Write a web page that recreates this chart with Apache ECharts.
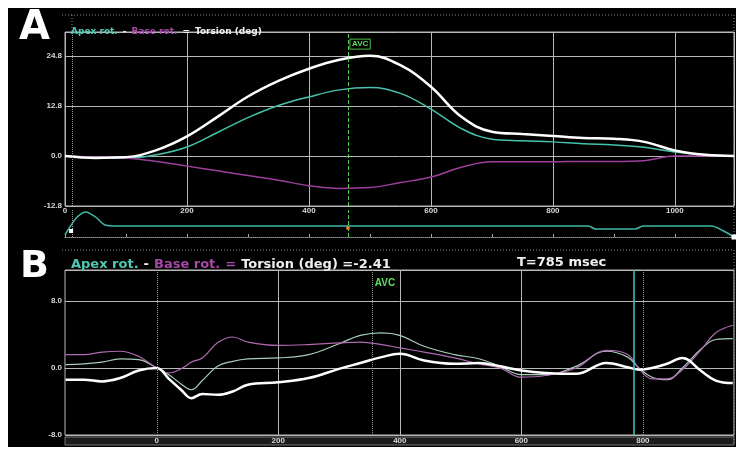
<!DOCTYPE html>
<html><head><meta charset="utf-8">
<script src="https://cdn.jsdelivr.net/npm/echarts@6/dist/echarts.min.js"></script>
<style>html,body{margin:0;padding:0;background:#fff;}#c{width:744px;height:452px;}</style>
</head><body><div id="c"></div>
<script>
// ---------- Panel A data ----------
const aTime    = [0, 50, 100, 150, 200, 250, 300, 350, 400, 450, 500, 550, 600, 650, 700, 750, 800, 850, 900, 950, 1000, 1050, 1097];
const aApex    = [0, -0.4, -0.6, 0.3, 2.3, 6.0, 9.8, 12.9, 15.1, 16.9, 17.5, 16.0, 12.0, 7.0, 4.3, 3.9, 3.6, 3.1, 2.8, 2.2, 1.0, 0.3, 0];
const aBase    = [0, -0.3, -0.5, -1.4, -2.6, -3.8, -5.0, -6.2, -7.6, -8.3, -8.1, -6.8, -5.4, -2.9, -1.5, -1.5, -1.5, -1.4, -1.4, -1.2, 0, 0, 0];
const aTorsion = [0, -0.5, -0.3, 1.5, 5.0, 10.0, 15.2, 19.2, 22.3, 24.6, 25.6, 23.2, 17.7, 10.0, 6.2, 5.6, 5.1, 4.6, 4.4, 3.6, 1.4, 0.3, 0];
const aYTicks  = [-12.8, 0, 12.8, 25.6];
const aYLabels = ['-12.8', '0.0', '12.8', '24.8'];
const aXLabels = [0, 200, 400, 600, 800, 1000];
const aMarkerT = 12;
const aAVC     = 464;
const ecgTime  = [0, 8, 20, 34, 50, 66, 85, 300, 580, 858, 870, 935, 948, 1060, 1080, 1097];
const ecgVal   = [2, 10, 20, 25, 20, 12, 11, 11, 11, 11, 8, 8, 11, 11, 6, 0];

// ---------- Panel B data ----------
const bTime    = [-150, -120, -90, -60, -30, 0, 20, 40, 57, 75, 100, 125, 150, 200, 250, 300, 335, 370, 400, 440, 490, 530, 565, 600, 640, 690, 740, 775, 795, 815, 840, 865, 895, 920, 948];
const bApex    = [0.4, 0.5, 0.7, 1.1, 1.0, 0, -0.8, -1.9, -2.6, -1.5, 0.2, 0.8, 1.1, 1.2, 1.6, 2.9, 3.9, 4.2, 3.9, 2.6, 1.6, 1.1, 0.2, -0.8, -0.8, 0.2, 2.0, 1.3, -0.1, -1.1, -1.4, 0.0, 2.2, 3.4, 3.5];
const bBase    = [1.6, 1.6, 1.9, 2.0, 1.4, 0, -0.6, -0.1, 0.7, 1.2, 3.0, 3.7, 3.1, 2.7, 2.8, 3.0, 3.1, 2.8, 2.4, 1.9, 1.2, 0.5, 0, -1.1, -0.9, 0, 2.1, 1.6, -0.2, -1.3, -1.3, -0.2, 2.1, 4.2, 5.1];
const bTorsion = [-1.4, -1.4, -1.6, -1.2, -0.3, 0, -1.3, -2.6, -3.6, -3.1, -3.2, -2.8, -2.0, -1.7, -1.2, -0.1, 0.6, 1.3, 1.7, 0.9, 0.5, 0.6, 0.2, -0.3, -0.6, -0.7, 0.6, 0.1, -0.2, 0.0, 0.5, 1.2, -0.3, -1.5, -1.8];
const bYTicks  = [-8, 0, 8];
const bYLabels = ['-8.0', '0.0', '8.0'];
const bXLabels = [0, 200, 400, 600, 800];
const bXGrid   = [200, 400, 600];
const bZeroT   = 0;
const bAVC     = 354;
const bCursorT = 785;
const bMarkT   = 800;
const bTorsionNow = '-2.41';

const zip = (xs, ys) => xs.map((x, i) => [x, ys[i]]);
const labelFor = (ticks, labels) => v => {
  for (let i = 0; i < ticks.length; i++) if (Math.abs(v - ticks[i]) < 1e-6) return labels[i];
  return '';
};

const chart = echarts.init(document.getElementById('c'), null, {renderer: 'canvas'});
const gridLine = {color: '#b8b8b8', width: 1};
const axLabel = {color: '#d8d8d8', fontSize: 8, fontWeight: 'bold', fontFamily: 'Liberation Sans'};
const LF = 'DejaVu Sans';

chart.setOption({
  animation: false,
  backgroundColor: '#fff',
  graphic: [
    {type: 'rect', shape: {x: 8, y: 8, width: 728, height: 439}, style: {fill: '#000'}, z: -10},
    {type: 'line', shape: {x1: 62, y1: 15, x2: 734, y2: 15}, style: {stroke: '#8a8a8a', lineDash: [1, 2]}},
    {type: 'line', shape: {x1: 734, y1: 15, x2: 734, y2: 240}, style: {stroke: '#8a8a8a', lineDash: [1, 2]}},
    {type: 'line', shape: {x1: 72, y1: 15, x2: 72, y2: 32}, style: {stroke: '#8a8a8a', lineDash: [1, 2]}},
    {type: 'line', shape: {x1: 62, y1: 250, x2: 734, y2: 250}, style: {stroke: '#8a8a8a', lineDash: [1, 2]}},
    {type: 'line', shape: {x1: 734, y1: 250, x2: 734, y2: 445}, style: {stroke: '#8a8a8a', lineDash: [1, 2]}},
    {type: 'rect', shape: {x: 65, y: 437, width: 669, height: 8}, style: {fill: '#1c1c1c', stroke: '#777', lineWidth: 1}, z: -5}
  ],
  title: [
    {text: 'A', left: 14, top: 4, textStyle: {color: '#fff', fontSize: 40, fontWeight: 'bold', fontFamily: LF}},
    {text: 'B', left: 15, top: 243, textStyle: {color: '#fff', fontSize: 38, fontWeight: 'bold', fontFamily: LF}},
    {text: '{a|Apex rot.} {w|-} {b|Base rot.} {w|=} {w|Torsion (deg)}', left: 66, top: 18,
     textStyle: {rich: {
       a: {color: '#4fc8b4', fontSize: 9, fontWeight: 'bold', fontFamily: LF},
       b: {color: '#a848a8', fontSize: 9, fontWeight: 'bold', fontFamily: LF},
       w: {color: '#f0f0f0', fontSize: 9, fontWeight: 'bold', fontFamily: LF}}}},
    {text: '{a|Apex rot.} {w|-} {b|Base rot.} {b|=} {w|Torsion (deg) =' + bTorsionNow + '}', left: 66, top: 251,
     textStyle: {rich: {
       a: {color: '#4fc8b4', fontSize: 13, fontWeight: 'bold', fontFamily: LF},
       b: {color: '#a848a8', fontSize: 13, fontWeight: 'bold', fontFamily: LF},
       w: {color: '#f0f0f0', fontSize: 13, fontWeight: 'bold', fontFamily: LF}}}},
    {text: 'T=' + bCursorT + ' msec', left: 512, top: 251,
     textStyle: {color: '#f0f0f0', fontSize: 13, fontWeight: 'bold', fontFamily: LF}}
  ],
  grid: [
    {left: 65, top: 32, width: 669, height: 174, show: true, borderColor: '#b8b8b8', borderWidth: 1, backgroundColor: 'transparent'},
    {left: 65, top: 210, width: 669, height: 27, show: false},
    {left: 65, top: 270, width: 669, height: 165, show: true, borderColor: '#b8b8b8', borderWidth: 1, backgroundColor: 'transparent'}
  ],
  xAxis: [
    {gridIndex: 0, type: 'value', min: 0, max: 1097, interval: 200,
     axisLine: {show: false}, axisTick: {show: false},
     axisLabel: Object.assign({margin: 1, formatter: labelFor(aXLabels, aXLabels.map(String))}, axLabel),
     splitLine: {show: true, lineStyle: gridLine}},
    {gridIndex: 1, type: 'value', min: 0, max: 1097, interval: 100,
     axisLine: {show: true, lineStyle: {color: '#999', type: 'dotted'}},
     axisTick: {show: true, inside: true, length: 3, lineStyle: {color: '#aaa'}},
     axisLabel: {show: false}, splitLine: {show: false}},
    {gridIndex: 2, type: 'value', min: -151, max: 950,
     axisLine: {show: false},
     axisTick: {show: false, customValues: bXGrid},
     axisLabel: Object.assign({margin: 2, customValues: bXLabels}, axLabel),
     splitLine: {show: true, lineStyle: gridLine}}
  ],
  yAxis: [
    {gridIndex: 0, type: 'value', min: -12.8, max: 31.7, interval: 12.8,
     axisLine: {show: false}, axisTick: {show: false},
     axisLabel: Object.assign({margin: 3, formatter: labelFor(aYTicks, aYLabels)}, axLabel),
     splitLine: {show: true, lineStyle: gridLine}},
    {gridIndex: 1, type: 'value', min: 0, max: 27, show: false},
    {gridIndex: 2, type: 'value', min: -8, max: 11.7, interval: 8,
     axisLine: {show: false}, axisTick: {show: false},
     axisLabel: Object.assign({margin: 3, formatter: labelFor(bYTicks, bYLabels)}, axLabel),
     splitLine: {show: true, lineStyle: gridLine}}
  ],
  series: [
    {name: 'Apex rot. A', type: 'line', xAxisIndex: 0, yAxisIndex: 0, data: zip(aTime, aApex), smooth: 0.4,
     showSymbol: false, lineStyle: {color: '#46c2ad', width: 1.5}, z: 3},
    {name: 'Base rot. A', type: 'line', xAxisIndex: 0, yAxisIndex: 0, data: zip(aTime, aBase), smooth: 0.4,
     showSymbol: false, lineStyle: {color: '#9c3f9c', width: 1.5}, z: 3},
    {name: 'Torsion A', type: 'line', xAxisIndex: 0, yAxisIndex: 0, data: zip(aTime, aTorsion), smooth: 0.4,
     showSymbol: false, lineStyle: {color: '#ffffff', width: 2.5}, z: 4,
     markLine: {silent: true, symbol: 'none', label: {show: false},
       data: [{xAxis: aMarkerT, lineStyle: {color: '#999', type: 'dotted', width: 1}},
              {xAxis: aAVC, lineStyle: {color: '#4fcf4f', type: 'dashed', width: 1}}]},
     markPoint: {silent: true, symbol: 'rect', symbolSize: 0,
       data: [{coord: [aAVC, 28.6], label: {show: true, formatter: 'AVC', position: 'right', distance: 2,
               color: '#5fdf5f', fontSize: 8, fontWeight: 'bold', borderColor: '#4fbf4f', borderWidth: 1, padding: [1, 2]}}]}},
    {name: 'ECG A', type: 'line', xAxisIndex: 1, yAxisIndex: 1, data: zip(ecgTime, ecgVal), smooth: 0.3,
     showSymbol: false, lineStyle: {color: '#3fb8a8', width: 1.5},
     markLine: {silent: true, symbol: 'none', label: {show: false},
       data: [{xAxis: aMarkerT, lineStyle: {color: '#999', type: 'dotted', width: 1}},
              {xAxis: aAVC, lineStyle: {color: '#4fcf4f', type: 'dashed', width: 1}}]},
     markPoint: {silent: true, label: {show: false},
       data: [{coord: [aAVC, 9], symbol: 'circle', symbolSize: 4, itemStyle: {color: '#e08030'}},
              {coord: [10, 6], symbol: 'rect', symbolSize: 4, itemStyle: {color: '#fff'}},
              {coord: [1097, 0], symbol: 'rect', symbolSize: 5, itemStyle: {color: '#fff'}}]}},
    {name: 'Apex rot. B', type: 'line', xAxisIndex: 2, yAxisIndex: 2, data: zip(bTime, bApex), smooth: 0.4,
     showSymbol: false, lineStyle: {color: '#a6cdb8', width: 1.2}, z: 3},
    {name: 'Base rot. B', type: 'line', xAxisIndex: 2, yAxisIndex: 2, data: zip(bTime, bBase), smooth: 0.4,
     showSymbol: false, lineStyle: {color: '#b06ab0', width: 1.2}, z: 3},
    {name: 'Torsion B', type: 'line', xAxisIndex: 2, yAxisIndex: 2, data: zip(bTime, bTorsion), smooth: 0.4,
     showSymbol: false, lineStyle: {color: '#ffffff', width: 2.5}, z: 4,
     markLine: {silent: true, symbol: 'none', label: {show: false},
       data: [{xAxis: bZeroT, lineStyle: {color: '#999', type: 'dotted', width: 1}},
              {xAxis: bAVC, lineStyle: {color: '#8a9a8a', type: 'dotted', width: 1}},
              {xAxis: bCursorT, lineStyle: {color: '#3cc4c4', type: 'solid', width: 1.5}},
              {xAxis: bMarkT, lineStyle: {color: '#999', type: 'dotted', width: 1}}]},
     markPoint: {silent: true, symbol: 'rect', symbolSize: 0,
       data: [{coord: [bAVC, 10.1], label: {show: true, formatter: 'AVC', position: 'right', distance: 3,
               color: '#5fdf5f', fontSize: 10, fontWeight: 'bold'}}]}}
  ]
});
</script>
</body></html>
